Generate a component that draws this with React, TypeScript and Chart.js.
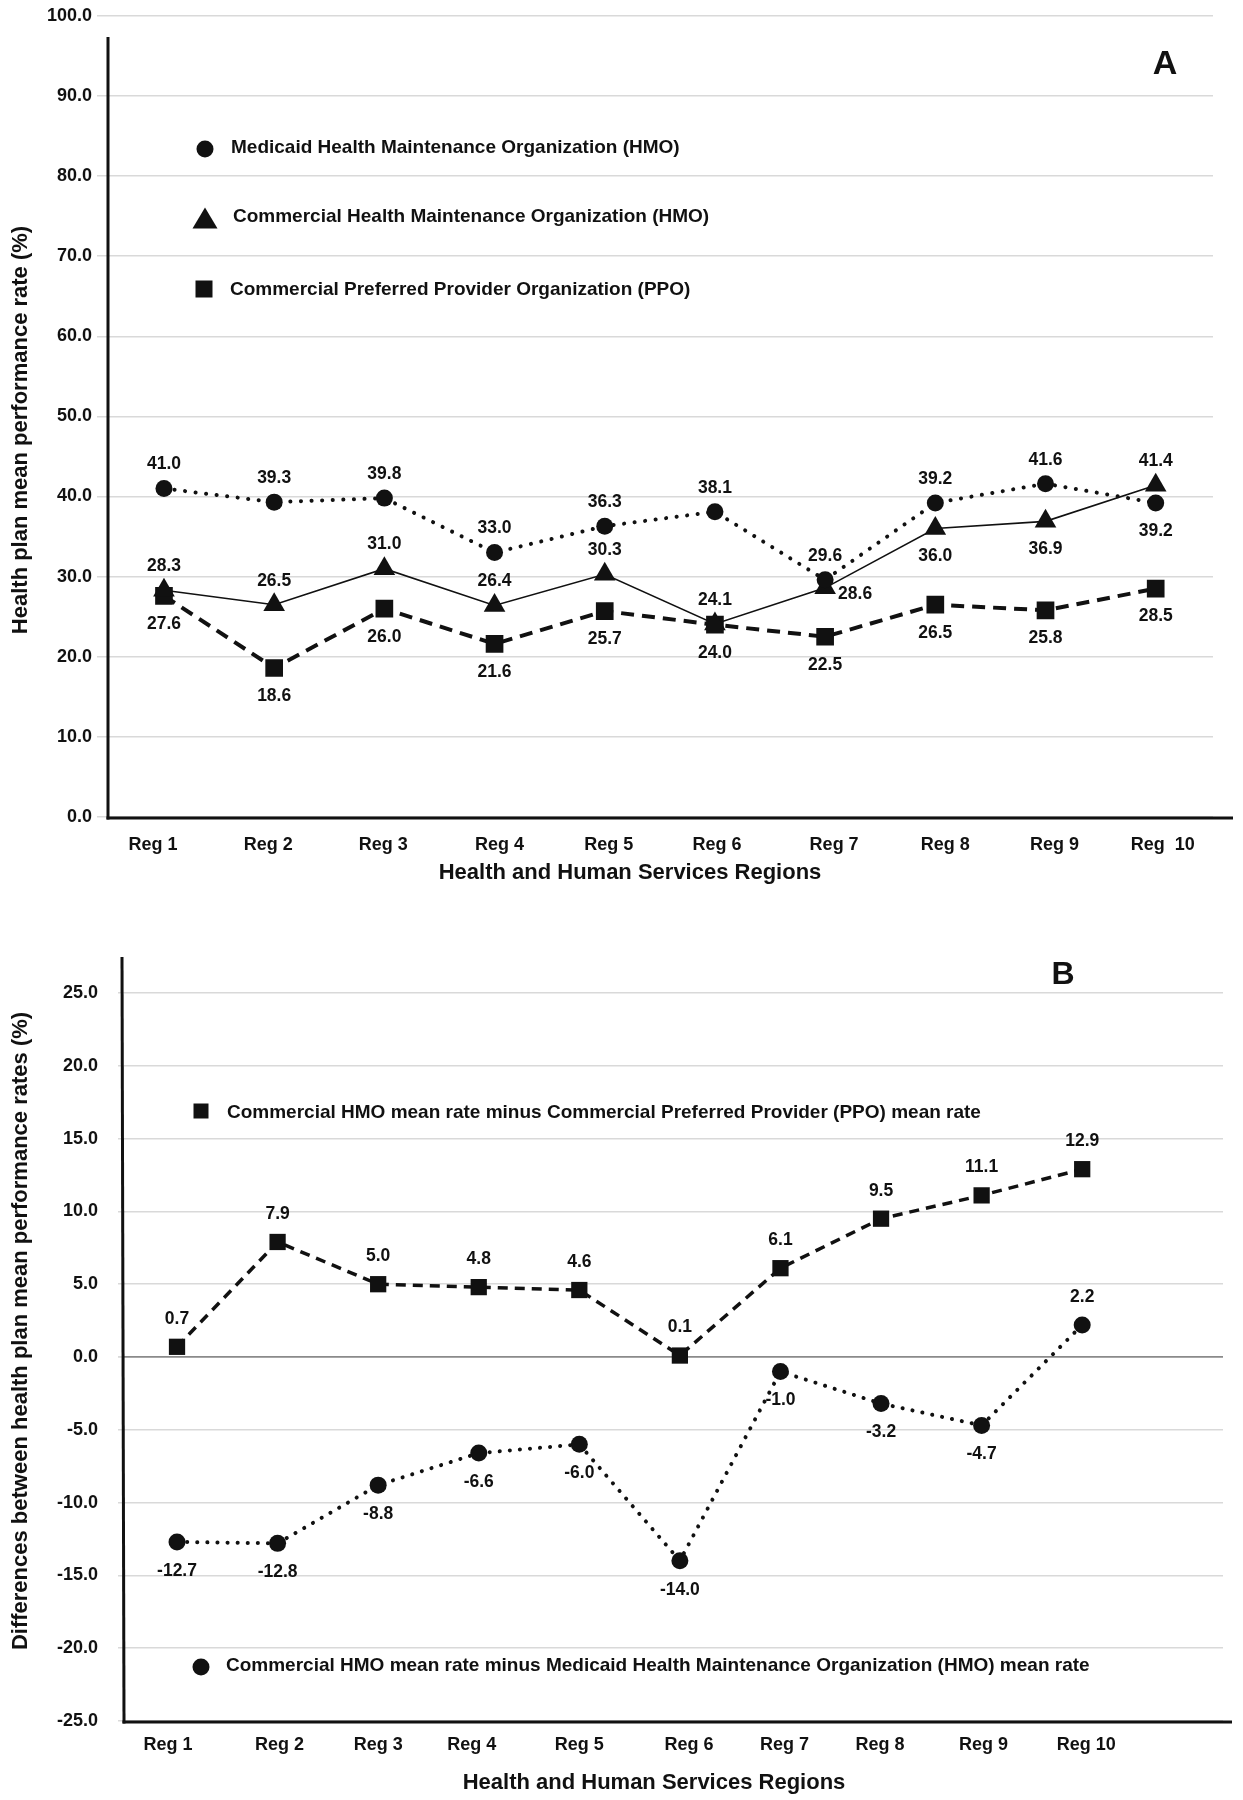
import React, { useEffect, useRef } from 'react';
import { Chart, registerables } from 'chart.js';

Chart.register(...registerables);

// ---------- data ----------
const regionsA = ['Reg 1', 'Reg 2', 'Reg 3', 'Reg 4', 'Reg 5', 'Reg 6', 'Reg 7', 'Reg 8', 'Reg 9', 'Reg  10'];
const regionsB = ['Reg 1', 'Reg 2', 'Reg 3', 'Reg 4', 'Reg 5', 'Reg 6', 'Reg 7', 'Reg 8', 'Reg 9', 'Reg 10'];

const medicaidHmo = [41.0, 39.3, 39.8, 33.0, 36.3, 38.1, 29.6, 39.2, 41.6, 39.2];
const commercialHmo = [28.3, 26.5, 31.0, 26.4, 30.3, 24.1, 28.6, 36.0, 36.9, 41.4];
const commercialPpo = [27.6, 18.6, 26.0, 21.6, 25.7, 24.0, 22.5, 26.5, 25.8, 28.5];

const hmoMinusPpo = [0.7, 7.9, 5.0, 4.8, 4.6, 0.1, 6.1, 9.5, 11.1, 12.9];
const hmoMinusMedicaid = [-12.7, -12.8, -8.8, -6.6, -6.0, -14.0, -1.0, -3.2, -4.7, 2.2];

const yTicksA = [0, 10, 20, 30, 40, 50, 60, 70, 80, 90, 100];
const yTicksB = [-25, -20, -15, -10, -5, 0, 5, 10, 15, 20, 25];

// label placement (relative to marker)
const posMedicaid = ['top', 'top', 'top', 'top', 'top', 'top', 'top', 'top', 'top', 'bottom'];
const posCommHmo = ['top', 'top', 'top', 'top', 'top', 'top', 'right', 'bottom', 'bottom', 'top'];
const posPpo = ['bottom', 'bottom', 'bottom', 'bottom', 'bottom', 'bottom', 'bottom', 'bottom', 'bottom', 'bottom'];
const posDiffPpo = ['top', 'top', 'top', 'top', 'top', 'top', 'top', 'top', 'top', 'top'];
const posDiffMedicaid = ['bottom', 'bottom', 'bottom', 'bottom', 'bottom', 'bottom', 'bottom', 'bottom', 'bottom', 'top'];

// small horizontal nudges (px) of the category labels, as in the original typesetting
const tickNudgeA = [-11, -6, -1, 5, 4, 2, 9, 10, 9, 7];
const tickNudgeB = [-9, 2, 0, -7, 0, 9, 4, -1, 2, 4];

// ---------- styling ----------
const FONT = '"Liberation Sans", Arial, Helvetica, sans-serif';
const INK = '#111111';
const GRID = '#d9d9d9';

const toPoints = (values: number[]) => values.map((y, i) => ({ x: i, y }));

function drawMarker(ctx: CanvasRenderingContext2D, shape: string, x: number, y: number, w: number, h: number) {
  ctx.beginPath();
  if (shape === 'circle') {
    ctx.arc(x, y, w, 0, Math.PI * 2);
  } else if (shape === 'rect') {
    ctx.rect(x - w / 2, y - h / 2, w, h);
  } else {
    ctx.moveTo(x, y - h / 2);
    ctx.lineTo(x + w / 2, y + h / 2);
    ctx.lineTo(x - w / 2, y + h / 2);
    ctx.closePath();
  }
  ctx.fill();
}

function makeAnnotations(spec: any) {
  return {
    id: 'annot' + spec.id,
    beforeDatasetsDraw(chart: any) {
      const ctx = chart.ctx as CanvasRenderingContext2D;
      ctx.save();
      ctx.strokeStyle = INK;
      ctx.lineWidth = 3;
      ctx.lineCap = 'butt';
      for (const l of spec.axisLines) {
        ctx.beginPath();
        ctx.moveTo(l[0], l[1]);
        ctx.lineTo(l[2], l[3]);
        ctx.stroke();
      }
      ctx.restore();
    },
    afterDraw(chart: any) {
      const ctx = chart.ctx as CanvasRenderingContext2D;
      ctx.save();
      ctx.fillStyle = INK;
      ctx.textBaseline = 'middle';

      // data labels
      ctx.font = `bold ${spec.labelSize}px ${FONT}`;
      ctx.textAlign = 'center';
      for (const set of spec.labels) {
        const meta = chart.getDatasetMeta(set.datasetIndex);
        meta.data.forEach((pt: any, j: number) => {
          const p = set.pos[j];
          let x = pt.x;
          let y = pt.y;
          if (p === 'top') y -= spec.offTop;
          else if (p === 'bottom') y += spec.offBottom;
          else {
            x += 30;
            y += 6;
          }
          ctx.fillText(set.values[j].toFixed(1), x, y);
        });
      }

      // legend
      ctx.font = `bold 19px ${FONT}`;
      ctx.textAlign = 'left';
      for (const e of spec.legend) {
        drawMarker(ctx, e.shape, e.mx, e.my, e.w, e.h);
        ctx.fillText(e.text, e.tx, e.ty);
      }

      // axis titles
      ctx.font = `bold 22px ${FONT}`;
      ctx.textAlign = 'center';
      ctx.fillText(spec.xTitle.text, spec.xTitle.x, spec.xTitle.y);
      ctx.save();
      ctx.translate(spec.yTitle.x, spec.yTitle.y);
      ctx.rotate(-Math.PI / 2);
      ctx.fillText(spec.yTitle.text, 0, 0);
      ctx.restore();

      // panel letter
      ctx.font = `bold ${spec.letter.size}px ${FONT}`;
      ctx.fillText(spec.letter.text, spec.letter.x, spec.letter.y);
      ctx.restore();
    },
  };
}

const tickFont = (size: number) => ({ family: FONT, size, weight: 'bold' as const });

function configA() {
  return {
    type: 'line' as const,
    data: {
      datasets: [
        {
          label: 'Medicaid Health Maintenance Organization (HMO)',
          data: toPoints(medicaidHmo),
          borderColor: INK,
          borderWidth: 4,
          borderDash: [0.1, 10.5],
          borderCapStyle: 'round',
          pointStyle: 'circle',
          pointRadius: 8.5,
          pointBackgroundColor: INK,
          pointBorderColor: INK,
          pointBorderWidth: 0,
        },
        {
          label: 'Commercial Health Maintenance Organization (HMO)',
          data: toPoints(commercialHmo),
          borderColor: INK,
          borderWidth: 1.6,
          pointStyle: 'triangle',
          pointRadius: 12.5,
          pointBackgroundColor: INK,
          pointBorderColor: INK,
          pointBorderWidth: 0,
        },
        {
          label: 'Commercial Preferred Provider Organization (PPO)',
          data: toPoints(commercialPpo),
          borderColor: INK,
          borderWidth: 4,
          borderDash: [13, 8],
          pointStyle: 'rect',
          pointRadius: 12.5,
          pointBackgroundColor: INK,
          pointBorderColor: INK,
          pointBorderWidth: 0,
        },
      ],
    },
    options: {
      animation: false,
      responsive: false,
      devicePixelRatio: 1,
      events: [],
      layout: { padding: { top: 13, right: 30, bottom: 0, left: 0 } },
      plugins: { legend: { display: false }, tooltip: { enabled: false } },
      scales: {
        x: {
          type: 'linear',
          min: -0.508,
          max: 9.52,
          afterFit: (s: any) => { s.height = 83; },
          afterBuildTicks: (s: any) => {
            s.ticks = regionsA.map((_, i) => ({ value: i + tickNudgeA[i] / 110.2 }));
          },
          ticks: {
            callback: (_v: any, i: number) => regionsA[i],
            autoSkip: false,
            maxRotation: 0,
            padding: 17,
            color: INK,
            font: tickFont(18),
          },
          grid: { display: false, drawTicks: false },
          border: { display: false },
        },
        y: {
          min: 0,
          max: 100,
          afterFit: (s: any) => { s.width = 108; },
          afterBuildTicks: (s: any) => { s.ticks = yTicksA.map((v) => ({ value: v })); },
          ticks: {
            callback: (v: any) => Number(v).toFixed(1),
            padding: 5,
            color: INK,
            font: tickFont(18),
          },
          grid: { color: GRID, lineWidth: 1.5, tickLength: 11, tickColor: GRID, drawTicks: true },
          border: { display: false },
        },
      },
    },
    plugins: [
      makeAnnotations({
        id: 'A',
        axisLines: [
          [108, 37, 108, 819.5],
          [106.5, 818, 1233, 818],
        ],
        labelSize: 17.5,
        offTop: 24,
        offBottom: 28,
        labels: [
          { datasetIndex: 0, values: medicaidHmo, pos: posMedicaid },
          { datasetIndex: 1, values: commercialHmo, pos: posCommHmo },
          { datasetIndex: 2, values: commercialPpo, pos: posPpo },
        ],
        legend: [
          { shape: 'circle', mx: 205, my: 149, w: 8.5, h: 8.5, text: 'Medicaid Health Maintenance Organization (HMO)', tx: 231, ty: 148 },
          { shape: 'triangle', mx: 205, my: 218, w: 25, h: 21, text: 'Commercial Health Maintenance Organization (HMO)', tx: 233, ty: 217 },
          { shape: 'rect', mx: 204, my: 289, w: 17, h: 17, text: 'Commercial Preferred Provider Organization (PPO)', tx: 230, ty: 290 },
        ],
        xTitle: { text: 'Health and Human Services Regions', x: 630, y: 873 },
        yTitle: { text: 'Health plan mean performance rate (%)', x: 21, y: 430 },
        letter: { text: 'A', x: 1165, y: 65, size: 34 },
      }),
    ],
  };
}

function configB() {
  return {
    type: 'line' as const,
    data: {
      datasets: [
        {
          label: 'Commercial HMO mean rate minus Commercial Preferred Provider (PPO) mean rate',
          data: toPoints(hmoMinusPpo),
          borderColor: INK,
          borderWidth: 3.5,
          borderDash: [10, 7],
          pointStyle: 'rect',
          pointRadius: 11.5,
          pointBackgroundColor: INK,
          pointBorderColor: INK,
          pointBorderWidth: 0,
        },
        {
          label: 'Commercial HMO mean rate minus Medicaid Health Maintenance Organization (HMO) mean rate',
          data: toPoints(hmoMinusMedicaid),
          borderColor: INK,
          borderWidth: 4,
          borderDash: [0.1, 10],
          borderCapStyle: 'round',
          pointStyle: 'circle',
          pointRadius: 8.5,
          pointBackgroundColor: INK,
          pointBorderColor: INK,
          pointBorderWidth: 0,
        },
      ],
    },
    options: {
      animation: false,
      responsive: false,
      devicePixelRatio: 1,
      events: [],
      layout: { padding: { top: 93, right: 20, bottom: 0, left: 0 } },
      plugins: { legend: { display: false }, tooltip: { enabled: false } },
      scales: {
        x: {
          type: 'linear',
          min: -0.547,
          max: 10.40,
          afterFit: (s: any) => { s.height = 79; },
          afterBuildTicks: (s: any) => {
            s.ticks = regionsB.map((_, i) => ({ value: i + tickNudgeB[i] / 100.6 }));
          },
          ticks: {
            callback: (_v: any, i: number) => regionsB[i],
            autoSkip: false,
            maxRotation: 0,
            padding: 13,
            color: INK,
            font: tickFont(18),
          },
          grid: { display: false, drawTicks: false },
          border: { display: false },
        },
        y: {
          min: -25,
          max: 25,
          afterFit: (s: any) => { s.width = 122; },
          afterBuildTicks: (s: any) => { s.ticks = yTicksB.map((v) => ({ value: v })); },
          ticks: {
            callback: (v: any) => Number(v).toFixed(1),
            padding: 20,
            color: INK,
            font: tickFont(18),
          },
          grid: {
            color: (c: any) => (c.tick && c.tick.value === 0 ? '#8a8a8a' : GRID),
            lineWidth: (c: any) => (c.tick && c.tick.value === 0 ? 1.8 : 1.5),
            tickLength: 4,
            tickColor: GRID,
            drawTicks: true,
          },
          border: { display: false },
        },
      },
    },
    plugins: [
      makeAnnotations({
        id: 'B',
        axisLines: [
          [122, 57, 124, 823.5],
          [122.5, 822, 1232, 822],
        ],
        labelSize: 17.5,
        offTop: 28,
        offBottom: 29,
        labels: [
          { datasetIndex: 0, values: hmoMinusPpo, pos: posDiffPpo },
          { datasetIndex: 1, values: hmoMinusMedicaid, pos: posDiffMedicaid },
        ],
        legend: [
          { shape: 'rect', mx: 201, my: 211, w: 15, h: 15, text: 'Commercial HMO mean rate minus Commercial Preferred Provider (PPO) mean rate', tx: 227, ty: 213 },
          { shape: 'circle', mx: 201, my: 767, w: 8.5, h: 8.5, text: 'Commercial HMO mean rate minus Medicaid Health Maintenance Organization (HMO) mean rate', tx: 226, ty: 766 },
        ],
        xTitle: { text: 'Health and Human Services Regions', x: 654, y: 883 },
        yTitle: { text: 'Differences between health plan mean performance rates (%)', x: 21, y: 431 },
        letter: { text: 'B', x: 1063, y: 75, size: 32 },
      }),
    ],
  };
}

function ChartCanvas({ make, top }: { make: () => any; top: number }) {
  const ref = useRef<HTMLCanvasElement | null>(null);
  useEffect(() => {
    if (!ref.current) return;
    const chart = new Chart(ref.current, make());
    return () => chart.destroy();
  }, [make]);
  return (
    <canvas
      ref={ref}
      width={1243}
      height={900}
      style={{ position: 'absolute', left: 0, top, width: 1243, height: 900, display: 'block' }}
    />
  );
}

export default function App() {
  return (
    <div style={{ position: 'absolute', left: 0, top: 0, width: 1243, height: 1800, background: '#ffffff', overflow: 'hidden' }}>
      <ChartCanvas make={configA} top={0} />
      <ChartCanvas make={configB} top={900} />
    </div>
  );
}
